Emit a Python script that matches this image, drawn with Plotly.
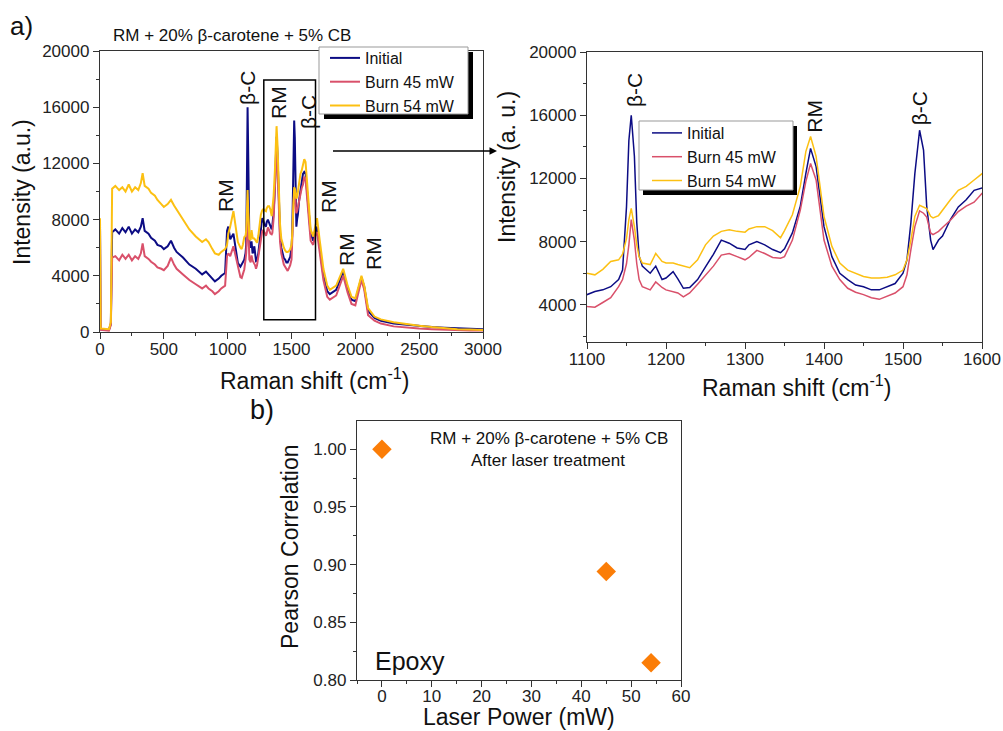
import plotly.graph_objects as go

# ---------------- data ----------------
raman_shift = [0, 5, 70, 85, 95, 120, 150, 175, 200, 225, 250, 275, 300, 320, 334, 350, 380, 400, 430, 450,
               480, 500, 530, 556, 580, 600, 650, 700, 750, 800, 830, 850, 880, 900, 930, 950, 980, 995, 1005,
               1020, 1045, 1065, 1080, 1100, 1110, 1120, 1130, 1140, 1145, 1150, 1153, 1156, 1160, 1163, 1166,
               1170, 1180, 1187, 1195, 1200, 1209, 1215, 1222, 1230, 1240, 1250, 1260, 1270, 1280, 1290, 1300,
               1305, 1315, 1325, 1335, 1345, 1350, 1360, 1370, 1377, 1383, 1390, 1395, 1400, 1410, 1420, 1430,
               1440, 1450, 1460, 1470, 1480, 1490, 1500, 1505, 1510, 1515, 1521, 1526, 1530, 1535, 1538, 1545,
               1550, 1560, 1570, 1580, 1590, 1600, 1610, 1630, 1650, 1670, 1690, 1700, 1720, 1750, 1780, 1800,
               1850, 1880, 1905, 1940, 1970, 2000, 2030, 2048, 2070, 2100, 2150, 2200, 2300, 2400, 2500, 2600,
               2700, 2800, 2900, 3000]

initial = [7800, 200, 150, 600, 7100, 7300, 7000, 7400, 7100, 7500, 7000, 7300, 7100, 7500, 8100, 7200, 7000,
           6700, 6500, 6200, 6100, 5900, 6100, 6500, 6000, 5700, 5300, 4800, 4500, 4100, 4300, 4100, 3800, 3600,
           3800, 4000, 4200, 7200, 7500, 6600, 7000, 5800, 4900, 4650, 4850, 4950, 5150, 5600, 6200, 10200,
           14400, 16000, 13400, 9200, 7100, 6450, 6000, 6450, 5600, 5700, 6100, 5650, 5050, 5100, 5600, 6400,
           7200, 8100, 7900, 7600, 7500, 7800, 8000, 7800, 7500, 7300, 7550, 8550, 10250, 12300, 13900, 12750,
           10850, 8950, 7050, 6000, 5600, 5250, 5150, 4950, 4950, 5150, 5350, 6000, 6850, 9200, 12300, 15050,
           13800, 10250, 8100, 7500, 8100, 8350, 9400, 10200, 10650, 11250, 11400, 11300, 9000, 7000, 6500,
           7200, 7500, 6100, 4000, 2900, 2700, 3000, 3700, 4300, 3100, 2300, 2200, 3200, 3900, 3200, 1500,
           1000, 800, 600, 500, 400, 350, 300, 250, 220, 200]

burn_45 = [7500, 150, 100, 500, 5300, 5400, 5100, 5500, 5200, 5500, 5100, 5400, 5200, 5600, 6300, 5400, 5200,
           5000, 4800, 4600, 4500, 4400, 4700, 5300, 4800, 4500, 4100, 3700, 3400, 3100, 3300, 3100, 2900, 2700,
           2900, 3100, 3300, 5400, 5600, 5400, 6100, 5300, 4500, 3900, 3850, 4150, 4450, 5150, 5600, 6600,
           7800, 9400, 8100, 6600, 5600, 5150, 4950, 5450, 5100, 4950, 4850, 4750, 4500, 4750, 5300, 5900,
           6450, 7150, 7250, 7050, 6850, 7000, 7450, 7250, 7000, 6950, 7050, 8100, 10000, 11800, 12950, 11900,
           10000, 8100, 6450, 5600, 5050, 4800, 4650, 4450, 4350, 4550, 4750, 5150, 5900, 7500, 8950, 9950,
           9800, 9550, 8550, 8450, 8650, 8900, 9350, 9900, 10250, 10500, 11050, 10900, 8500, 6500, 6200,
           7000, 7100, 5600, 3700, 2500, 2300, 2600, 3300, 4000, 2800, 2000, 1900, 2900, 3700, 3000, 1200,
           800, 600, 400, 300, 250, 200, 150, 120, 100, 100]

burn_54 = [8100, 250, 200, 700, 10200, 10400, 10100, 10300, 10000, 10500, 10000, 10300, 10100, 10600, 11300,
           10400, 10200, 9900, 9700, 9400, 9100, 8900, 9100, 9400, 9000, 8700, 8000, 7300, 6800, 6400, 6600,
           6400, 5900, 5600, 5500, 5700, 5900, 6200, 7000, 7500, 8600, 7200, 6400, 6000, 5900, 6250, 6750,
           6850, 7200, 8200, 9400, 10100, 8950, 7800, 7050, 6650, 6550, 7250, 6750, 6650, 6650, 6550, 6450,
           6350, 6850, 7800, 8350, 8650, 8750, 8650, 8600, 8800, 8950, 8950, 8700, 8250, 8700, 9700, 11500,
           13700, 14650, 13400, 11500, 9600, 7700, 6650, 6200, 6000, 5800, 5700, 5700, 5750, 5900, 6200, 6850,
           8100, 9600, 10300, 10200, 10100, 9600, 9500, 9650, 10000, 10650, 11250, 11500, 11900, 12300, 12100,
           9600, 7300, 6800, 7800, 8100, 6600, 4500, 3300, 3000, 3300, 3900, 4500, 3300, 2500, 2400, 3400,
           4000, 3300, 1700, 1100, 900, 700, 550, 450, 350, 250, 200, 170, 150]

series_names = ["Initial", "Burn 45 mW", "Burn 54 mW"]
series_values = [initial, burn_45, burn_54]
series_colors = ["#0c0c84", "#d9506a", "#fcc012"]

laser_power = [0, 45, 54]
pearson = [1.000, 0.894, 0.815]

W, H = 1003, 731


def px(x):
    return x / W


def py(y):
    return 1 - y / H


fig = go.Figure()

for name, vals, col in zip(series_names, series_values, series_colors):
    fig.add_trace(go.Scatter(x=raman_shift, y=vals, mode="lines", name=name,
                             line=dict(color=col, width=2), xaxis="x", yaxis="y",
                             legend="legend"))
for name, vals, col in zip(series_names, series_values, series_colors):
    fig.add_trace(go.Scatter(x=raman_shift, y=vals, mode="lines", name=name,
                             line=dict(color=col, width=1.5), xaxis="x2", yaxis="y2",
                             legend="legend2"))

fig.add_trace(go.Scatter(x=laser_power, y=pearson, mode="markers", showlegend=False,
                         marker=dict(symbol="diamond", size=15, color="#fb7d07"),
                         xaxis="x3", yaxis="y3"))

FONT = "Arial"
tickfont = dict(family=FONT, size=17, color="#222")


def axis(domain, rng, dtick, minor_dtick, anchor, tickformat="d", standoff=0):
    return dict(domain=domain, range=rng, dtick=dtick, tick0=0, anchor=anchor,
                showline=True, linecolor="#333", linewidth=1.3, mirror=True,
                ticks="outside", ticklen=6, tickwidth=1.3, tickcolor="#333",
                showgrid=False, zeroline=False, tickfont=tickfont, tickformat=tickformat,
                automargin=False, ticklabelstandoff=standoff,
                minor=dict(ticks="outside", ticklen=3, tickwidth=1.2, tickcolor="#333",
                           dtick=minor_dtick, tick0=0, showgrid=False))


legend_style = dict(xanchor="left", yanchor="top", bgcolor="rgba(0,0,0,0)", borderwidth=0,
                    font=dict(family=FONT, size=16, color="#111"), tracegroupgap=0,
                    itemwidth=30)

fig.update_layout(
    width=W, height=H,
    margin=dict(l=0, r=0, t=0, b=0, pad=0, autoexpand=False),
    paper_bgcolor="white", plot_bgcolor="white",
    font=dict(family=FONT, color="#111"),
    xaxis=axis([px(100), px(483)], [0, 3000], 500, 250, "y", standoff=-5),
    yaxis=axis([py(332), py(51)], [0, 20000], 4000, 2000, "x"),
    xaxis2=axis([px(587), px(982)], [1100, 1600], 100, 50, "y2", standoff=-5),
    yaxis2=axis([py(342), py(52)], [1650, 20000], 4000, 2000, "x2"),
    xaxis3=axis([px(357), px(681)], [-5, 60], 10, 5, "y3", standoff=-6),
    yaxis3=axis([py(680), py(421)], [0.8, 1.0245], 0.05, 0.025, "x3", ".2f"),
    legend=dict(x=px(325), y=py(41), **legend_style),
    legend2=dict(x=px(647), y=py(116), **legend_style),
)

shapes = [
    # zoom box on left spectrum
    dict(type="rect", xref="x", yref="y", x0=1283, x1=1688, y0=877, y1=17940,
         line=dict(color="black", width=1.5), fillcolor="rgba(0,0,0,0)"),
    # legend boxes with drop shadows
    dict(type="rect", xref="paper", yref="paper", x0=px(324), x1=px(473), y0=py(119), y1=py(52),
         line=dict(width=0), fillcolor="black", layer="above"),
    dict(type="rect", xref="paper", yref="paper", x0=px(319), x1=px(468), y0=py(114), y1=py(47),
         line=dict(width=1, color="#999"), fillcolor="white", layer="above"),
    dict(type="rect", xref="paper", yref="paper", x0=px(643), x1=px(797), y0=py(195), y1=py(126),
         line=dict(width=0), fillcolor="black", layer="above"),
    dict(type="rect", xref="paper", yref="paper", x0=px(639), x1=px(793), y0=py(190), y1=py(121),
         line=dict(width=1, color="#999"), fillcolor="white", layer="above"),
]
fig.update_layout(shapes=shapes)

ann = []


def label(text, x, y, xref, yref, size=21, angle=-90):
    ann.append(dict(text=text, x=x, y=y, xref=xref, yref=yref, showarrow=False,
                    textangle=angle, font=dict(family=FONT, size=size, color="#111"),
                    xanchor="center", yanchor="middle"))


# peak labels, left
label("β-C", 1159, 17370, "x", "y")
label("RM", 1394, 16370, "x", "y")
label("β-C", 1637, 15660, "x", "y")
label("RM", 979, 9750, "x", "y")
label("RM", 1794, 9610, "x", "y")
label("RM", 1935, 5840, "x", "y")
label("RM", 2138, 5620, "x", "y")
# peak labels, right
label("β-C", 1161, 17600, "x2", "y2")
label("RM", 1387, 15950, "x2", "y2")
label("β-C", 1522, 16460, "x2", "y2")

# titles and axis titles
label("RM + 20% β-carotene + 5% CB", px(232), py(36), "paper", "paper", size=17, angle=0)
label("a)", px(21), py(26), "paper", "paper", size=26, angle=0)
label("b)", px(262), py(410), "paper", "paper", size=27, angle=0)
label("Intensity (a.u.)", px(22), py(192), "paper", "paper", size=23)
label("Raman shift (cm<sup>-1</sup>)", px(314), py(379), "paper", "paper", size=23, angle=0)
label("Intensity (a. u.)", px(507), py(167), "paper", "paper", size=23)
label("Raman shift (cm<sup>-1</sup>)", px(796), py(386), "paper", "paper", size=23, angle=0)
label("Pearson Correlation", px(290), py(547), "paper", "paper", size=23)
label("Laser Power (mW)", px(519), py(717), "paper", "paper", size=23, angle=0)
label("RM + 20% β-carotene + 5% CB", px(549), py(438), "paper", "paper", size=17, angle=0)
label("After laser treatment", px(548), py(460), "paper", "paper", size=17, angle=0)
label("Epoxy", px(410), py(661), "paper", "paper", size=25, angle=0)

# arrow (tail offset in pixels)
ann.append(dict(x=px(497), y=py(151), ax=-167, ay=0, xref="paper", yref="paper",
                axref="pixel", ayref="pixel", showarrow=True, arrowhead=2, arrowsize=1,
                arrowwidth=1.5, arrowcolor="black", text=" "))

fig.update_layout(annotations=ann)

fig.write_html("out.html", post_script="document.body.style.margin='0';",
               config={"displayModeBar": False})
